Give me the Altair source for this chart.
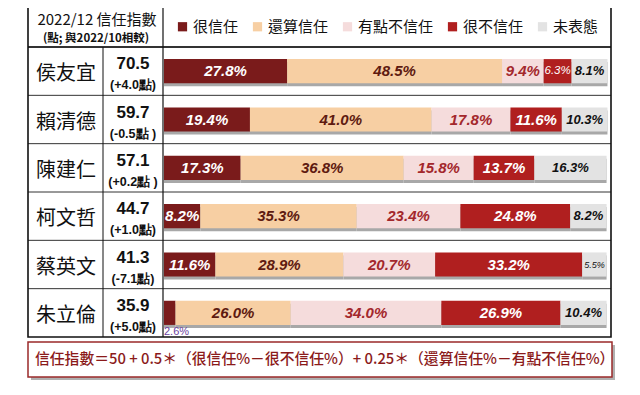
import altair as alt
import pandas as pd

names = ["侯友宜", "賴清德", "陳建仁", "柯文哲", "蔡英文", "朱立倫"]
trust_index = ["70.5", "59.7", "57.1", "44.7", "41.3", "35.9"]
index_change = ["(+4.0點)", "(-0.5點 )", "(+0.2點 )", "(+1.0點)", "(-7.1點)", "(+5.0點)"]
categories = ["很信任", "還算信任", "有點不信任", "很不信任", "未表態"]
very_trust = [27.8, 19.4, 17.3, 8.2, 11.6, 2.6]
somewhat_trust = [48.5, 41.0, 36.8, 35.3, 28.9, 26.0]
somewhat_distrust = [9.4, 17.8, 15.8, 23.4, 20.7, 34.0]
very_distrust = [6.3, 11.6, 13.7, 24.8, 33.2, 26.9]
no_opinion = [8.1, 10.3, 16.3, 8.2, 5.5, 10.4]

header_title = "2022/12 信任指數"
header_sub = "(點; 與2022/10相較)"
formula = "信任指數＝50 + 0.5＊（很信任%－很不信任%）+ 0.25＊（還算信任%－有點不信任%）"

colors = ["#7a1b1b", "#f7cfa3", "#f5dcdc", "#b01f1f", "#e3e3e3"]
label_colors = ["#ffffff", "#5e1a10", "#a3282c", "#ffffff", "#111111"]

series = [very_trust, somewhat_trust, somewhat_distrust, very_distrust, no_opinion]
rows = []
for i, n in enumerate(names):
    for k, (cat, vals) in enumerate(zip(categories, series)):
        rows.append({"name": n, "cat": cat, "k": k, "value": vals[i]})
df = pd.DataFrame(rows)
info = pd.DataFrame({"name": names, "idx": trust_index, "chg": index_change})
dummy = pd.DataFrame({"a": [0]})

W, H = 583, 290
xs = alt.Scale(domain=[-30.7, 100.9], nice=False, zero=False)
Y = alt.Y("name:N", sort=names, axis=None,
          scale=alt.Scale(paddingInner=0.5, paddingOuter=0.25))
num_font = "Liberation Sans Narrow, Arial Narrow, Liberation Sans, Arial"
cjk = "Noto Sans CJK TC"

base = alt.Chart(df).transform_stack(
    stack="value", as_=["x0", "x1"], groupby=["name"],
    sort=[alt.SortField("k", order="ascending")]
)

shadow = base.mark_bar(color="#a8a8a8", yOffset=3).encode(
    x=alt.X("x0:Q", scale=xs, axis=None), x2="x1:Q", y=Y
)
bars = base.mark_bar().encode(
    x=alt.X("x0:Q", scale=xs, axis=None), x2="x1:Q", y=Y,
    color=alt.Color("cat:N", scale=alt.Scale(domain=categories, range=colors),
                    legend=alt.Legend(orient="none", legendX=147, legendY=-28,
                                      direction="horizontal", title=None,
                                      symbolType="square", symbolSize=85,
                                      symbolStrokeWidth=0, labelFontSize=15,
                                      labelFont=cjk, labelColor="#111",
                                      columnPadding=11, labelOffset=3)),
)

lab = base.transform_calculate(
    mid="(datum.x0 + datum.x1) / 2",
    lab="format(datum.value, '.1f') + '%'",
    tc="%s[datum.k]" % str(label_colors),
)
main_labels = lab.transform_filter("datum.value >= 7").mark_text(
    font=num_font, fontStyle="italic", fontWeight="bold"
).encode(x=alt.X("mid:Q", scale=xs), y=Y, text="lab:N",
         color=alt.Color("tc:N", scale=None),
         size=alt.condition("datum.k == 4", alt.value(13), alt.value(15)))
small_labels = lab.transform_filter("datum.value >= 5 && datum.value < 7").mark_text(
    font=num_font, fontStyle="italic"
).encode(x=alt.X("mid:Q", scale=xs), y=Y, text="lab:N",
         color=alt.Color("tc:N", scale=None),
         size=alt.condition("datum.value < 6", alt.value(9), alt.value(11.5)))
tiny_labels = lab.transform_filter("datum.value < 5").mark_text(
    font=num_font, fontSize=11, align="left", dy=19, color="#6b3fa0"
).encode(x=alt.X("x0:Q", scale=xs), y=Y, text="lab:N")

row_lines = alt.Chart(info).mark_rule(yOffset=-H / 12, color="#333", strokeWidth=1).encode(
    y=Y, x=alt.value(0), x2=alt.value(W)
)
name_text = alt.Chart(info).mark_text(font=cjk, fontSize=20, dy=3, color="#111").encode(
    y=Y, x=alt.value(38), text="name:N"
)
idx_text = alt.Chart(info).mark_text(font="Liberation Sans", fontSize=17,
                                     fontWeight="bold", dy=-7, color="#111").encode(
    y=Y, x=alt.value(105), text="idx:N"
)
chg_text = alt.Chart(info).mark_text(font="Liberation Sans", fontSize=12.5,
                                     fontWeight="bold", dy=14, color="#111").encode(
    y=Y, x=alt.value(105), text="chg:N"
)

d = alt.Chart(dummy)
outer = d.mark_rect(fillOpacity=0, stroke="#111", strokeWidth=1.6).encode(
    x=alt.value(0), x2=alt.value(W), y=alt.value(-40), y2=alt.value(H)
)
vline1 = d.mark_rule(color="#111", strokeWidth=1.2).encode(
    x=alt.value(135), y=alt.value(-40), y2=alt.value(H)
)
vline2 = d.mark_rule(color="#111", strokeWidth=1).encode(
    x=alt.value(75), y=alt.value(0), y2=alt.value(H)
)
hline = d.mark_rule(color="#111", strokeWidth=1.4).encode(
    x=alt.value(0), x2=alt.value(W), y=alt.value(0)
)
h_title = d.mark_text(text=header_title, font=cjk, fontSize=15, color="#111").encode(
    x=alt.value(69), y=alt.value(-27)
)
h_sub = d.mark_text(text=header_sub, font=cjk, fontSize=11.5, fontWeight="bold",
                    color="#111").encode(x=alt.value(68), y=alt.value(-8))

box_shadow = d.mark_rect(color="#b0b0b0").encode(
    x=alt.value(3), x2=alt.value(W + 4), y=alt.value(298), y2=alt.value(333)
)
box = d.mark_rect(fill="white", stroke="#9a2a2a", strokeWidth=1.5).encode(
    x=alt.value(0), x2=alt.value(W + 1), y=alt.value(295), y2=alt.value(330)
)
formula_text = d.mark_text(text=formula, font=cjk, fontSize=14.8, fontWeight=500,
                           align="left", color="#8b1a1a").encode(
    x=alt.value(7), y=alt.value(313))

chart = alt.layer(
    shadow, bars, main_labels, small_labels, tiny_labels,
    row_lines, vline1, vline2, hline, outer,
    name_text, idx_text, chg_text, h_title, h_sub,
    box_shadow, box, formula_text,
).properties(
    width=W, height=H,
    autosize=alt.AutoSizeParams(type="none"),
    padding={"left": 20, "top": 39, "right": 20, "bottom": 50},
).configure_view(stroke=None)

chart.save("out.html", embed_options={"renderer": "svg", "actions": False})
